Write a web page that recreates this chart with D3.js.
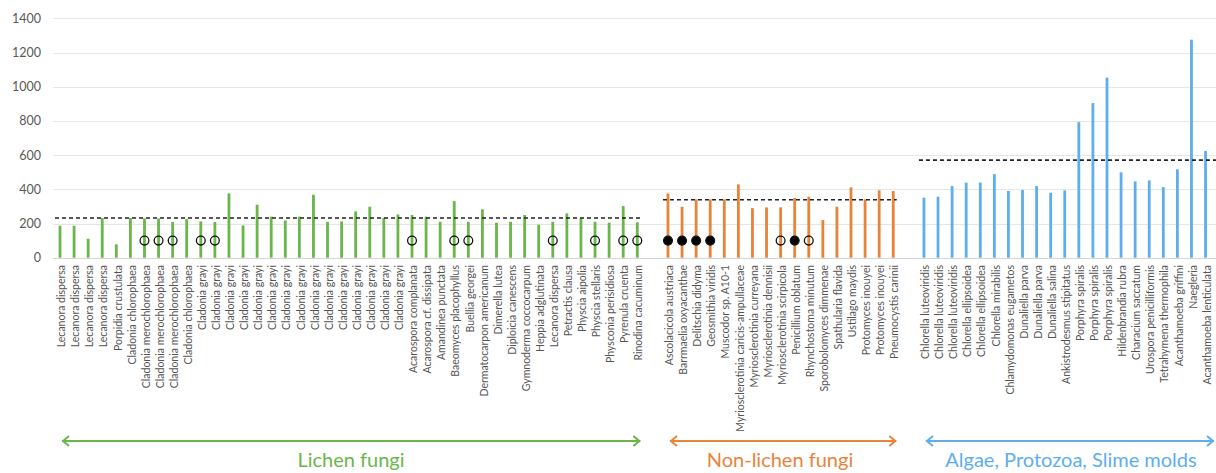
<!DOCTYPE html>
<html>
<head>
<meta charset="utf-8">
<script src="https://cdn.jsdelivr.net/npm/d3@7"></script>
<style>
  html, body { margin: 0; padding: 0; background: #ffffff; }
  svg { display: block; }
</style>
</head>
<body>
<svg id="chart" width="1216" height="473"></svg>
<script>
// Species per group
const lichenSpecies = [
  "Lecanora dispersa", "Lecanora dispersa", "Lecanora dispersa", "Lecanora dispersa",
  "Porpidia crustulata", "Cladonia chlorophaea", "Cladonia merochlorophaea",
  "Cladonia merochlorophaea", "Cladonia merochlorophaea", "Cladonia chlorophaea",
  "Cladonia grayi", "Cladonia grayi", "Cladonia grayi", "Cladonia grayi", "Cladonia grayi",
  "Cladonia grayi", "Cladonia grayi", "Cladonia grayi", "Cladonia grayi", "Cladonia grayi",
  "Cladonia grayi", "Cladonia grayi", "Cladonia grayi", "Cladonia grayi", "Cladonia grayi",
  "Acarospora complanata", "Acarospora cf. dissipata", "Amandinea punctata",
  "Baeomyces placophyllus", "Buellia georgei", "Dermatocarpon americanum",
  "Dimerella lutea", "Diploicia canescens", "Gymnoderma coccocarpum",
  "Heppia adglutinata", "Lecanora dispersa", "Petractis clausa", "Physcia aipolia",
  "Physcia stellaris", "Physconia perisidiosa", "Pyrenula cruenta", "Rinodina cacuminum"
];
const lichenValues = [
  187, 187, 111, 232, 78, 232, 230, 230, 209, 226,
  212, 209, 376, 189, 310, 240, 218, 240, 368, 210,
  212, 271, 298, 232, 253, 250, 240, 210, 331, 210,
  283, 205, 210, 250, 193, 210, 259, 230, 210, 205,
  302, 207
];
// marker per bar: "" none, "o" open circle, "f" filled circle
const lichenMarks = [
  "", "", "", "", "", "", "o", "o", "o", "",
  "o", "o", "", "", "", "", "", "", "", "",
  "", "", "", "", "", "o", "", "", "o", "o",
  "", "", "", "", "", "o", "", "", "o", "",
  "o", "o"
];

const fungiSpecies = [
  "Ascolacicola austriaca", "Barrmaelia oxyacanthae", "Delitschia didyma",
  "Geosmithia viridis", "Muscodor sp. A10-1", "Myriosclerotinia caricis-ampullaceae",
  "Myriosclerotinia curreyana", "Myriosclerotinia dennisii", "Myriosclerotinia scirpicola",
  "Penicillium oblatum", "Rhynchostoma minutum", "Sporobolomyces dimmenae",
  "Spathularia flavida", "Ustilago maydis", "Protomyces inouyei", "Protomyces inouyei",
  "Pneumocystis carinii"
];
const fungiValues = [376, 298, 341, 341, 341, 429, 290, 294, 294, 349, 357, 220, 298, 411, 341, 394, 390];
const fungiMarks = ["f", "f", "f", "f", "", "", "", "", "o", "f", "o", "", "", "", "", "", ""];

const algaeSpecies = [
  "Chlorella luteoviridis", "Chlorella luteoviridis", "Chlorella luteoviridis",
  "Chlorella ellipsoidea", "Chlorella ellipsoidea", "Chlorella mirabilis",
  "Chlamydomonas eugametos", "Dunaliella parva", "Dunaliella parva", "Dunaliella salina",
  "Ankistrodesmus stipitatus", "Porphyra spiralis", "Porphyra spiralis", "Porphyra spiralis",
  "Hildenbrandia rubra", "Characium saccatum", "Urospora penicilliformis",
  "Tetrahymena thermophila", "Acanthamoeba griffini", "Naegleria",
  "Acanthamoeba lenticulata", "Didymium iridis"
];
const algaeValues = [351, 357, 419, 439, 439, 489, 390, 396, 419, 380, 394, 793, 904, 1053, 499, 446, 452, 413, 517, 1275, 624, 1110];
const algaeMarks = algaeSpecies.map(() => "");

const groupNames = ["Lichen fungi", "Non-lichen fungi", "Algae, Protozoa, Slime molds"];
const groupColors = ["#6ab64a", "#e8843a", "#5eaeee"];
const yTicks = [0, 200, 400, 600, 800, 1000, 1200, 1400];
const markerValue = 100;

const groups = [
  { name: groupNames[0], color: groupColors[0], species: lichenSpecies, values: lichenValues, marks: lichenMarks },
  { name: groupNames[1], color: groupColors[1], species: fungiSpecies, values: fungiValues, marks: fungiMarks },
  { name: groupNames[2], color: groupColors[2], species: algaeSpecies, values: algaeValues, marks: algaeMarks }
];

// Lay groups out on a slot axis with a wider gap between groups
const groupGap = 1.18;
const rows = [];
let slot = 0;
groups.forEach((g, gi) => {
  g.start = slot;
  g.species.forEach((s, i) => {
    rows.push({ species: s, value: g.values[i], mark: g.marks[i], slot: slot, group: gi });
    slot += 1;
  });
  g.end = slot - 1;
  g.mean = d3.mean(g.values);
  slot += groupGap;
});
const lastSlot = rows[rows.length - 1].slot;

const svg = d3.select("#chart");
const W = 1216, H = 473;

const x = d3.scaleLinear().domain([0, lastSlot]).range([60, 60 + lastSlot * 14.08]);
const y = d3.scaleLinear().domain([0, 1400]).range([257.7, 18.3]);

// Gridlines
svg.append("g")
  .selectAll("line")
  .data(yTicks)
  .join("line")
  .attr("x1", 53).attr("x2", W)
  .attr("y1", d => Math.round(y(d)) + 0.5).attr("y2", d => Math.round(y(d)) + 0.5)
  .attr("stroke", d => d === 0 ? "#d4d4d4" : "#e6e6e6")
  .attr("stroke-width", 1.2);

// Y axis labels
const yAxis = d3.axisLeft(y).tickValues(yTicks).tickSize(0).tickPadding(0).tickFormat(d3.format("d"));
svg.append("g")
  .attr("transform", "translate(41,0)")
  .call(yAxis)
  .call(g => g.select(".domain").remove())
  .call(g => g.selectAll("text")
    .attr("fill", "#595959")
    .style("font-family", "Lato, 'Open Sans', sans-serif")
    .style("font-size", "12.5px"));

// Bars
svg.append("g")
  .selectAll("rect")
  .data(rows)
  .join("rect")
  .attr("x", d => x(d.slot) - 1.4)
  .attr("width", 2.8)
  .attr("y", d => y(d.value))
  .attr("height", d => y(0) - y(d.value))
  .attr("fill", d => groups[d.group].color);

// Group mean lines
svg.append("g")
  .selectAll("line")
  .data(groups)
  .join("line")
  .attr("x1", g => x(g.start) - 5)
  .attr("x2", g => x(g.end) + 3.5)
  .attr("y1", g => y(g.mean)).attr("y2", g => y(g.mean))
  .attr("stroke", "#222")
  .attr("stroke-width", 1.6)
  .attr("stroke-dasharray", "4,3");

// Markers
svg.append("g")
  .selectAll("circle")
  .data(rows.filter(d => d.mark))
  .join("circle")
  .attr("cx", d => x(d.slot))
  .attr("cy", y(markerValue))
  .attr("r", 4.4)
  .attr("fill", d => d.mark === "f" ? "#000" : "none")
  .attr("stroke", "#111")
  .attr("stroke-width", 1.3);

// Category labels
svg.append("g")
  .selectAll("text")
  .data(rows)
  .join("text")
  .attr("transform", d => `translate(${x(d.slot) + 1.5},265) rotate(-90)`)
  .attr("text-anchor", "end")
  .attr("dy", "0.35em")
  .attr("fill", "#555555")
  .style("font-family", "Lato, 'Open Sans', sans-serif")
  .style("font-size", "10.5px")
  .text(d => d.species);

// Group range arrows and names
const arrowY = 441;
const arrowSpans = groups.map(g => [x(g.start) + 2, Math.min(x(g.end) + 3, W - 2)]);
const ag = svg.append("g");
groups.forEach((g, gi) => {
  const [a, b] = arrowSpans[gi];
  ag.append("line")
    .attr("x1", a).attr("x2", b)
    .attr("y1", arrowY).attr("y2", arrowY)
    .attr("stroke", g.color).attr("stroke-width", 2);
  ag.append("path")
    .attr("d", `M${a + 7},${arrowY - 5} L${a + 1},${arrowY} L${a + 7},${arrowY + 5}`)
    .attr("fill", "none").attr("stroke", g.color).attr("stroke-width", 2)
    .attr("stroke-linejoin", "miter");
  ag.append("path")
    .attr("d", `M${b - 7},${arrowY - 5} L${b - 1},${arrowY} L${b - 7},${arrowY + 5}`)
    .attr("fill", "none").attr("stroke", g.color).attr("stroke-width", 2);
});
const labelCenters = [351, 780, 1071];
ag.selectAll("text.group")
  .data(groups)
  .join("text")
  .attr("class", "group")
  .attr("x", (g, i) => labelCenters[i])
  .attr("y", 467)
  .attr("text-anchor", "middle")
  .attr("fill", g => g.color)
  .style("font-family", "Lato, 'Open Sans', sans-serif")
  .style("font-size", "20px")
  .text(g => g.name);
</script>
</body>
</html>
